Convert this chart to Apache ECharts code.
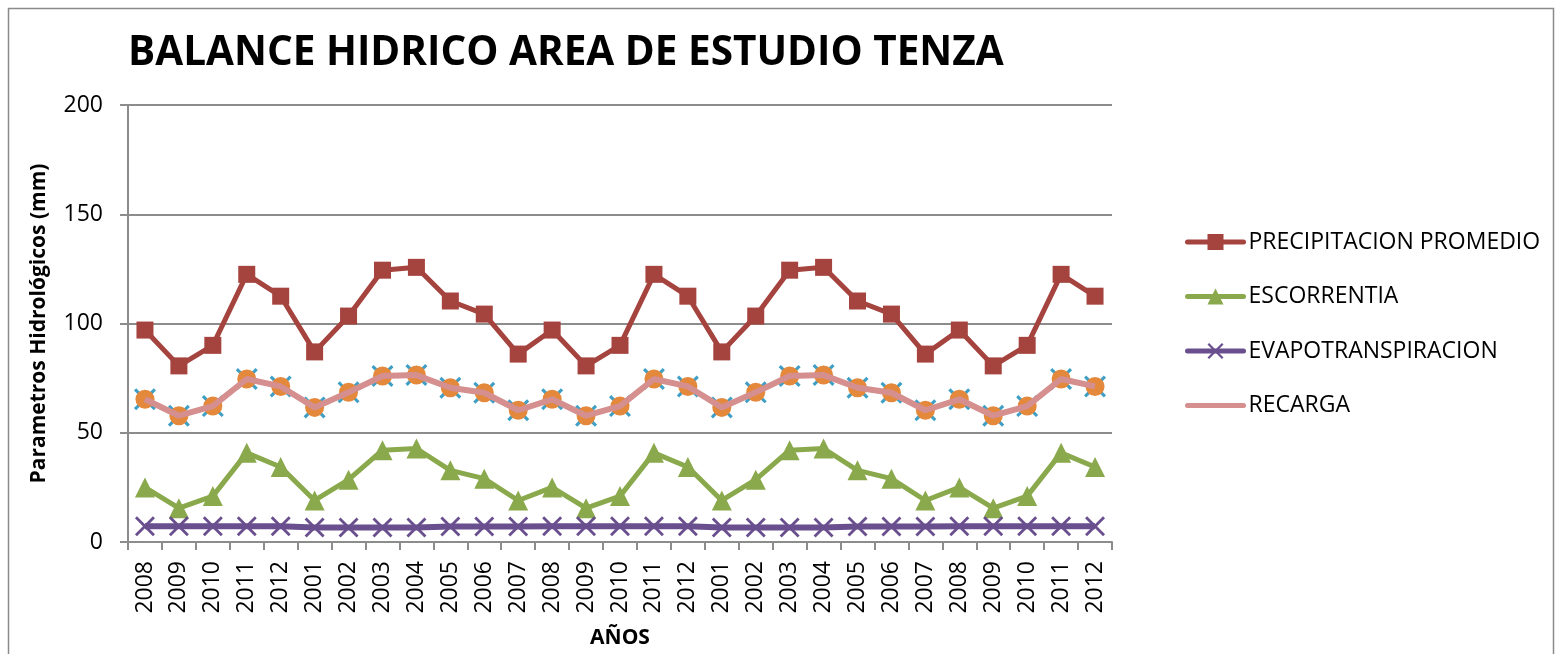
<!DOCTYPE html>
<html>
<head>
<meta charset="utf-8">
<script src="https://cdn.jsdelivr.net/npm/echarts@6/dist/echarts.min.js"></script>
<style>
  html, body { margin: 0; padding: 0; background: #fff; }
  #chart { width: 1560px; height: 654px; }
</style>
</head>
<body>
<div id="chart"></div>
<script>
// Años del periodo analizado (tres ciclos encadenados)
const years = ['2008','2009','2010','2011','2012','2001','2002','2003','2004','2005','2006','2007',
               '2008','2009','2010','2011','2012','2001','2002','2003','2004','2005','2006','2007',
               '2008','2009','2010','2011','2012'];

// Parámetros hidrológicos (mm)
const precipitacion = [97, 80.6, 90, 122.5, 112.5, 87, 103.4, 124.4, 125.7, 110.3, 104.3, 86,
                       97, 80.6, 90, 122.5, 112.5, 87, 103.4, 124.4, 125.7, 110.3, 104.3, 86,
                       97, 80.6, 90, 122.5, 112.5];
const escorrentia = [25, 15.5, 21, 40.8, 34.3, 19, 28.5, 42, 42.8, 32.8, 29, 19,
                     25, 15.5, 21, 40.8, 34.3, 19, 28.5, 42, 42.8, 32.8, 29, 19,
                     25, 15.5, 21, 40.8, 34.3];
const evapotranspiracion = [7.2, 7.2, 7.2, 7.2, 7.2, 6.6, 6.6, 6.6, 6.6, 7.1, 7.1, 7.1,
                            7.2, 7.2, 7.2, 7.2, 7.2, 6.6, 6.6, 6.6, 6.6, 7.1, 7.1, 7.1,
                            7.2, 7.2, 7.2, 7.2, 7.2];
const recarga = [65.3, 57.8, 62.2, 74.6, 71.2, 61.6, 68.5, 76, 76.4, 70.6, 68.3, 60.3,
                 65.3, 57.8, 62.2, 74.6, 71.2, 61.6, 68.5, 76, 76.4, 70.6, 68.3, 60.3,
                 65.3, 57.8, 62.2, 74.6, 71.2];

const yTicks = { min: 0, max: 200, interval: 50 };

const FONT = '"Open Sans", "Liberation Sans", sans-serif';
const GRID_GRAY = '#8c8c8c';
const CROSS = 'path://M0,1 L1,0 L5,4 L9,0 L10,1 L6,5 L10,9 L9,10 L5,6 L1,10 L0,9 L4,5 Z';

const chart = echarts.init(document.getElementById('chart'), null, { renderer: 'canvas' });

chart.setOption({
  backgroundColor: '#fff',
  animation: false,
  graphic: [{
    type: 'rect',
    shape: { x: 8.5, y: 8.5, width: 1545, height: 700 },
    style: { fill: 'none', stroke: '#8a8a8a', lineWidth: 1.5 },
    silent: true
  }],
  title: {
    text: 'BALANCE HIDRICO AREA DE ESTUDIO TENZA',
    left: 123,
    top: 28,
    textStyle: { fontFamily: FONT, fontWeight: 'bold', fontSize: 40.5, color: '#000' }
  },
  legend: {
    data: [
      { name: 'PRECIPITACION PROMEDIO' },
      { name: 'ESCORRENTIA' },
      { name: 'EVAPOTRANSPIRACION' },
      { name: 'RECARGA', itemStyle: { opacity: 0 } }
    ],
    orient: 'vertical',
    left: 1180,
    top: 225.5,
    itemWidth: 56,
    itemHeight: 20,
    itemGap: 31.5,
    lineStyle: { width: 5, cap: 'round' },
    textStyle: { fontFamily: FONT, fontSize: 23, color: '#000', padding: [0, 0, 0, 0] }
  },
  grid: { left: 128, right: 448, top: 105, bottom: 110, containLabel: false },
  xAxis: {
    type: 'category',
    data: years,
    boundaryGap: true,
    name: 'AÑOS',
    nameLocation: 'middle',
    nameGap: 86,
    nameTextStyle: { fontFamily: FONT, fontWeight: 'bold', fontSize: 21, color: '#000' },
    axisLine: { lineStyle: { color: GRID_GRAY, width: 2 } },
    axisTick: { show: true, alignWithLabel: false, length: 8, lineStyle: { color: GRID_GRAY, width: 2 } },
    axisLabel: { rotate: 90, margin: 19, interval: 0, fontFamily: FONT, fontSize: 23, color: '#000' },
    splitLine: { show: false }
  },
  yAxis: {
    type: 'value',
    min: yTicks.min,
    max: yTicks.max,
    interval: yTicks.interval,
    name: 'Parametros Hidrológicos (mm)',
    nameLocation: 'middle',
    nameGap: 78,
    nameTextStyle: { fontFamily: FONT, fontWeight: 'bold', fontSize: 21, color: '#000' },
    axisLine: { show: true, lineStyle: { color: GRID_GRAY, width: 2 } },
    axisTick: { show: true, length: 8, lineStyle: { color: GRID_GRAY, width: 2 } },
    axisLabel: { margin: 25, fontFamily: FONT, fontSize: 23, color: '#000' },
    splitLine: { show: true, lineStyle: { color: GRID_GRAY, width: 2 } }
  },
  series: [
    {
      name: 'PRECIPITACION PROMEDIO',
      type: 'line',
      data: precipitacion,
      symbol: 'rect',
      symbolSize: 17,
      lineStyle: { color: '#a5433e', width: 5 },
      itemStyle: { color: '#a5433e' },
      z: 5
    },
    {
      name: 'ESCORRENTIA',
      type: 'line',
      data: escorrentia,
      symbol: 'triangle',
      symbolSize: 20,
      lineStyle: { color: '#8aa94c', width: 5 },
      itemStyle: { color: '#8aa94c' },
      z: 5
    },
    {
      name: 'EVAPOTRANSPIRACION',
      type: 'line',
      data: evapotranspiracion,
      symbol: CROSS,
      symbolSize: 20,
      lineStyle: { color: '#6a4f8f', width: 6 },
      itemStyle: { color: '#6a4f8f' },
      z: 5
    },
    {
      name: 'RECARGA (x)',
      type: 'line',
      data: recarga,
      symbol: CROSS,
      symbolSize: 22,
      lineStyle: { width: 0, opacity: 0 },
      itemStyle: { color: '#3f9fc4' },
      z: 2
    },
    {
      name: 'RECARGA (o)',
      type: 'line',
      data: recarga,
      symbol: 'circle',
      symbolSize: 19,
      lineStyle: { width: 0, opacity: 0 },
      itemStyle: { color: '#e4883b' },
      z: 3
    },
    {
      name: 'RECARGA',
      type: 'line',
      data: recarga,
      symbol: 'none',
      lineStyle: { color: '#d48f8e', width: 6 },
      itemStyle: { color: '#d48f8e' },
      z: 4
    }
  ]
});
</script>
</body>
</html>
